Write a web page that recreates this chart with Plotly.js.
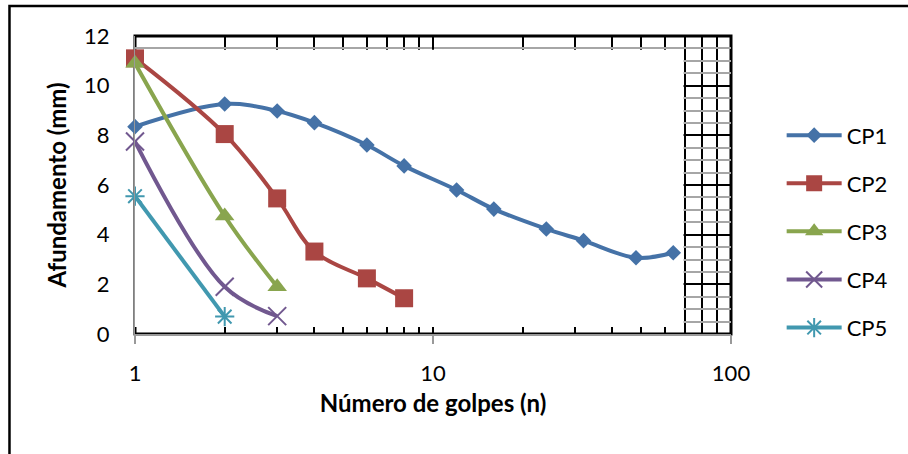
<!DOCTYPE html>
<html>
<head>
<meta charset="utf-8">
<script src="https://cdn.plot.ly/plotly-3.0.1.min.js"></script>
<style>html,body{margin:0;padding:0;background:#fff;}#chart{width:908px;height:454px;}</style>
</head>
<body>
<div id="chart"></div>
<script>
// Data
const golpes = [1, 2, 3, 4, 6, 8, 12, 16, 24, 32, 48, 64];
const cp1 = [8.35, 9.26, 8.98, 8.51, 7.61, 6.77, 5.80, 5.03, 4.23, 3.76, 3.07, 3.27];
const cp2 = [11.1, 8.05, 5.46, 3.32, 2.24, 1.44];
const cp3 = [10.9, 4.75, 1.9];
const cp4 = [7.75, 1.9, 0.72];
const cp5 = [5.55, 0.7];
const seriesNames = ['CP1', 'CP2', 'CP3', 'CP4', 'CP5'];
const xTickVals = [1, 10, 100];
const xTickText = ['1', '10', '100'];
const xMinorVals = [2, 3, 4, 5, 6, 7, 8, 9, 20, 30, 40, 50, 60, 70, 80, 90];
const yTickVals = [0, 2, 4, 6, 8, 10, 12];

const colors = ['#4572A7', '#AA4643', '#89A54E', '#71588F', '#4198AF'];
const markers = [
  {symbol: 'diamond', size: 12},
  {symbol: 'square', size: 18},
  {symbol: 'triangle-up', size: 17},
  {symbol: 'x-thin-open', size: 18, line: {width: 2}},
  {symbol: 'asterisk-open', size: 16, line: {width: 2}}
];
const ys = [cp1, cp2, cp3, cp4, cp5];

const traces = ys.map((y, i) => {
  const m = Object.assign({color: colors[i]}, markers[i]);
  if (m.line) m.line.color = colors[i];
  return {
    type: 'scatter',
    mode: 'lines+markers',
    name: seriesNames[i],
    legendgroup: 'g' + i,
    x: golpes.slice(0, y.length),
    y: y,
    line: {color: colors[i], width: 4, shape: 'spline', smoothing: 1},
    marker: m,
    cliponaxis: false
  };
});

const font = "Lato, 'Open Sans', sans-serif";

const layout = {
  width: 908,
  height: 454,
  margin: {l: 135, r: 177, t: 36, b: 120},
  paper_bgcolor: '#ffffff',
  plot_bgcolor: '#ffffff',
  font: {family: font, color: '#000', size: 21},
  showlegend: true,
  legend: {
    x: 1.085, xanchor: 'left',
    y: 0.737, yanchor: 'top',
    font: {family: font, size: 22, color: '#000'},
    bgcolor: 'rgba(0,0,0,0)',
    traceorder: 'grouped',
    tracegroupgap: 16.5,
    itemwidth: 55
  },
  xaxis: {
    type: 'log',
    range: [0, 2],
    tickmode: 'array',
    tickvals: xTickVals,
    ticktext: xTickText,
    ticks: 'outside',
    ticklen: 8,
    tickwidth: 2,
    tickcolor: '#999',
    ticklabelstandoff: 11,
    tickfont: {size: 22},
    showgrid: true,
    gridcolor: '#000',
    gridwidth: 2,
    minor: {tickmode: 'array', tickvals: xMinorVals, showgrid: true, gridcolor: '#000', gridwidth: 2, ticks: ''},
    showline: true,
    linecolor: '#999',
    linewidth: 2,
    zeroline: false,
    title: {text: '<b>Número de golpes (n)</b>', font: {family: font, size: 24, color: '#000'}, standoff: 10},
    automargin: false
  },
  yaxis: {
    range: [0, 12],
    tickmode: 'array',
    tickvals: yTickVals,
    ticks: '',
    ticklabelstandoff: 20,
    tickfont: {size: 22},
    showgrid: true,
    gridcolor: '#000',
    gridwidth: 2,
    minor: {dtick: 0.5, showgrid: true, gridcolor: '#A6A6A6', gridwidth: 2, ticks: ''},
    showline: true,
    linecolor: '#999',
    linewidth: 1,
    zeroline: false,
    title: {text: '<b>Afundamento (mm)</b>', font: {family: font, size: 24, color: '#000'}, standoff: 10},
    automargin: false
  },
  shapes: [
    // white panel hiding most gridlines (as in the reference)
    {type: 'rect', xref: 'x', yref: 'y', x0: 1, x1: 69.3, y0: 0.28, y1: 11.45,
     fillcolor: '#ffffff', line: {width: 0}, layer: 'between'},
    // black plot frame
    {type: 'rect', xref: 'paper', yref: 'paper', x0: 0, x1: 1, y0: 0, y1: 1,
     fillcolor: 'rgba(0,0,0,0)', line: {color: '#000', width: 3}, layer: 'between'},
    // chart outer border (cropped)
    {type: 'rect', xref: 'paper', yref: 'paper', x0: -0.2106, x1: 1.6, y0: -0.5, y1: 1.1007,
     fillcolor: 'rgba(0,0,0,0)', line: {color: '#000', width: 2.5}, layer: 'above'}
  ]
};

Plotly.newPlot('chart', traces, layout, {displayModeBar: false, staticPlot: true});
</script>
</body>
</html>
